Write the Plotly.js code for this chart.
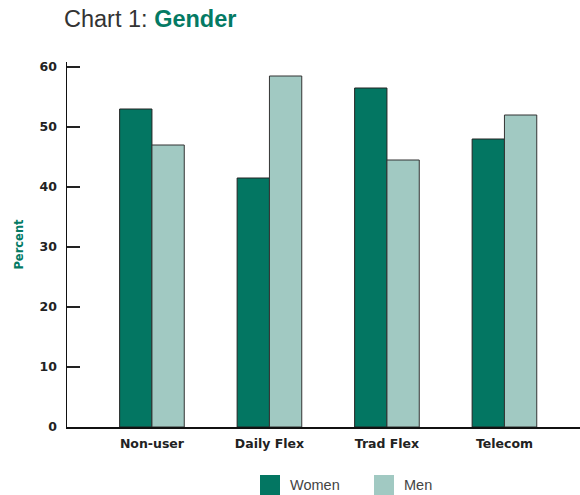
<!DOCTYPE html>
<html>
<head>
<meta charset="utf-8">
<script src="https://cdn.plot.ly/plotly-3.0.1.min.js"></script>
<style>html,body{margin:0;padding:0;background:#fff;}#chart{width:580px;height:495px;}</style>
</head>
<body>
<div id="chart"></div>
<script>
const categories = ["Non-user", "Daily Flex", "Trad Flex", "Telecom"];
const women = [53, 41.5, 56.5, 48];
const men = [47, 58.5, 44.5, 52];
const seriesNames = ["Women", "Men"];
const yTicks = [0, 10, 20, 30, 40, 50, 60];

const cWomen = "#037662";
const cMen = "#a1c9c2";
const W = 580, H = 495, mL = 67, mR = 0, mT = 62, mB = 68;
const pw = W - mL - mR, ph = H - mT - mB;
const px = v => (v - mL) / pw;
const py = v => (H - mB - v) / ph;

const tickFont = {family: "DejaVu Sans, Verdana, sans-serif", size: 12.5, color: "#222", weight: "bold"};
const legFont = {family: "Liberation Sans, Arial, sans-serif", size: 14.5, color: "#444"};

const traces = [
  {type: "bar", name: seriesNames[0], x: categories, y: women,
   marker: {color: cWomen, line: {color: "#222", width: 1}}, showlegend: false, hoverinfo: "none"},
  {type: "bar", name: seriesNames[1], x: categories, y: men,
   marker: {color: cMen, line: {color: "#333", width: 1}}, showlegend: false, hoverinfo: "none"}
];

const layout = {
  width: W, height: H,
  margin: {l: mL, r: mR, t: mT, b: mB, pad: 0},
  paper_bgcolor: "#fff", plot_bgcolor: "#fff",
  barmode: "group", bargap: 0.45, bargroupgap: 0,
  title: {
    text: "Chart 1: <span style='color:#047a64;font-weight:bold'>Gender</span>",
    font: {family: "Liberation Sans, Arial, sans-serif", size: 23.5, color: "#333"},
    xref: "container", yref: "container", x: 64 / W, xanchor: "left",
    y: 1 - 11 / H, yanchor: "top"
  },
  xaxis: {
    type: "category", range: [-0.723, 3.643],
    showline: true, linecolor: "#111", linewidth: 1.5,
    ticks: "", showgrid: false, zeroline: false,
    tickfont: tickFont, ticklabelstandoff: 4
  },
  yaxis: {
    range: [0, ph / 6], tickvals: yTicks, ticktext: yTicks.map(String),
    showline: true, linecolor: "#111", linewidth: 1.5,
    ticks: "inside", ticklen: 13, tickcolor: "#222", tickwidth: 1.5,
    showgrid: false, zeroline: false,
    tickfont: tickFont, ticklabelstandoff: 6,
    title: {text: "Percent", font: {family: "DejaVu Sans, Verdana, sans-serif", size: 11.5, color: "#047a64", weight: "bold"}, standoff: 13}
  },
  shapes: [
    {type: "rect", xref: "paper", yref: "paper", x0: px(260), x1: px(280), y0: py(495), y1: py(475),
     fillcolor: cWomen, line: {width: 0}},
    {type: "rect", xref: "paper", yref: "paper", x0: px(374), x1: px(394), y0: py(495), y1: py(475),
     fillcolor: cMen, line: {width: 0}}
  ],
  annotations: [
    {xref: "paper", yref: "paper", x: px(289), y: py(494), xanchor: "left", yanchor: "bottom", showarrow: false,
     text: seriesNames[0], font: legFont, borderpad: 0},
    {xref: "paper", yref: "paper", x: px(403), y: py(494), xanchor: "left", yanchor: "bottom", showarrow: false,
     text: seriesNames[1], font: legFont, borderpad: 0}
  ]
};

Plotly.newPlot("chart", traces, layout, {staticPlot: true, displayModeBar: false});
</script>
</body>
</html>
